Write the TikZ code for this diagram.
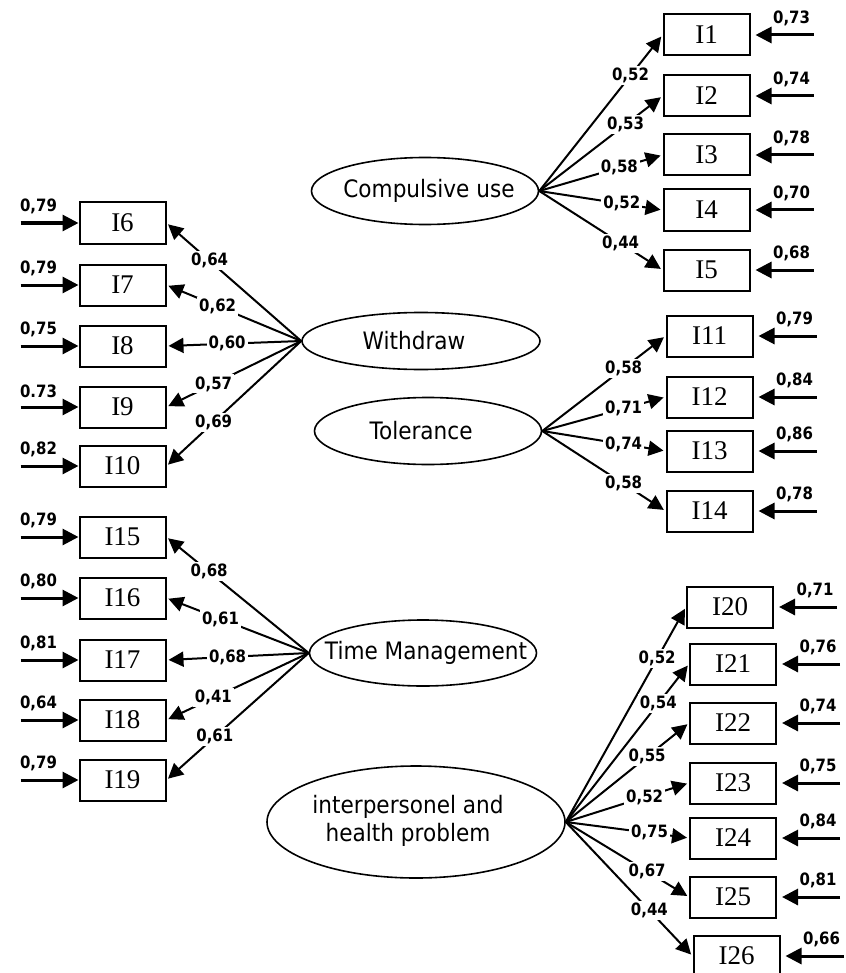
\documentclass[tikz,border=0pt]{standalone}
\usepackage{fontspec}
\setmainfont{DejaVu Sans}
\newfontfamily\itemfont{Liberation Serif}
\newfontfamily\narrowfont{DejaVu Sans}[FakeStretch=0.9]
\newfontfamily\coeffont{DejaVu Sans}[FakeStretch=0.88]
\usetikzlibrary{arrows.meta,shapes.geometric}
\tikzset{
  item/.style={draw,line width=1pt,minimum width=43pt,minimum height=20.5pt,inner sep=0pt,
    font=\itemfont\fontsize{13.5}{15}\selectfont},
  factor/.style={draw,ellipse,line width=0.8pt,inner sep=0pt},
  ftext/.style={align=center,font=\narrowfont\fontsize{12}{14}\selectfont},
  load/.style={line width=1pt,-{Triangle[length=7.5pt,width=7.5pt]},shorten >=1pt},
  err/.style={line width=1.5pt,-{Triangle[length=8pt,width=8pt]}},
  coef/.style={fill=white,inner sep=1pt,font=\coeffont\bfseries\fontsize{8.5}{10}\selectfont},
  elab/.style={inner sep=1pt,yshift=3pt,font=\coeffont\bfseries\fontsize{8.5}{10}\selectfont}
}
\begin{document}
\begin{tikzpicture}[x=0.5pt,y=-0.5pt]
\useasboundingbox (0,0) rectangle (845,973);
% factors
\node[factor,minimum width=113.5pt,minimum height=33.5pt] (cu) at (425,191) {};
\node[ftext] (cutxt) at (429,191) {Compulsive use};
\node[factor,minimum width=119pt,minimum height=28.5pt] (wd) at (421,341) {};
\node[ftext] (wdtxt) at (414,341) {Withdraw};
\node[factor,minimum width=113.5pt,minimum height=33.5pt] (tol) at (428,431) {};
\node[ftext] (toltxt) at (421,431) {Tolerance};
\node[factor,minimum width=113.5pt,minimum height=33pt] (tm) at (423,653) {};
\node[ftext] (tmtxt) at (426,653) {Time Management};
\node[factor,minimum width=149pt,minimum height=56pt] (ih) at (416,822) {};
\node[ftext] (ihtxt) at (408,821) {interpersonel and\\health problem};
% items, left
\node[item] (i6) at (122.5,223) {I6};
\node[item] (i7) at (122.5,285) {I7};
\node[item] (i8) at (122.5,346) {I8};
\node[item] (i9) at (122.5,407) {I9};
\node[item] (i10) at (122.5,466) {I10};
\node[item] (i15) at (122.5,537) {I15};
\node[item] (i16) at (122.5,598) {I16};
\node[item] (i17) at (122.5,660) {I17};
\node[item] (i18) at (122.5,720) {I18};
\node[item] (i19) at (122.5,780) {I19};
% items, right
\node[item] (i1) at (706.5,35) {I1};
\node[item] (i2) at (706.5,96) {I2};
\node[item] (i3) at (706.5,155) {I3};
\node[item] (i4) at (706.5,210) {I4};
\node[item] (i5) at (706.5,270) {I5};
\node[item] (i11) at (709.5,336) {I11};
\node[item] (i12) at (709.5,397) {I12};
\node[item] (i13) at (709.5,451) {I13};
\node[item] (i14) at (709.5,511) {I14};
\node[item] (i20) at (730,607) {I20};
\node[item] (i21) at (733,664) {I21};
\node[item] (i22) at (733,723) {I22};
\node[item] (i23) at (733,783) {I23};
\node[item] (i24) at (733,838) {I24};
\node[item] (i25) at (733,897) {I25};
\node[item] (i26) at (736.5,956) {I26};
% loadings
\draw[load] (cu.east) -- node[coef,pos=0.74] {0,52} (i1.west);
\draw[load] (cu.east) -- node[coef,pos=0.7] {0,53} (i2.west);
\draw[load] (cu.east) -- node[coef,pos=0.65] {0,58} (i3.west);
\draw[load] (cu.east) -- node[coef,pos=0.67] {0,52} (i4.west);
\draw[load] (cu.east) -- node[coef,pos=0.66] {0,44} (i5.west);
\draw[load] (wd.west) -- node[coef,pos=0.68] {0,64} (i6.east);
\draw[load] (wd.west) -- node[coef,pos=0.62] {0,62} (i7.east);
\draw[load] (wd.west) -- node[coef,pos=0.55] {0,60} (i8.east);
\draw[load] (wd.west) -- node[coef,pos=0.65] {0,57} (i9.east);
\draw[load] (wd.west) -- node[coef,pos=0.65] {0,69} (i10.east);
\draw[load] (tol.east) -- node[coef,pos=0.66] {0,58} (i11.west);
\draw[load] (tol.east) -- node[coef,pos=0.66] {0,71} (i12.west);
\draw[load] (tol.east) -- node[coef,pos=0.66] {0,74} (i13.west);
\draw[load] (tol.east) -- node[coef,pos=0.66] {0,58} (i14.west);
\draw[load] (tm.west) -- node[coef,pos=0.7] {0,68} (i15.east);
\draw[load] (tm.west) -- node[coef,pos=0.62] {0,61} (i16.east);
\draw[load] (tm.west) -- node[coef,pos=0.57] {0,68} (i17.east);
\draw[load] (tm.west) -- node[coef,pos=0.67] {0,41} (i18.east);
\draw[load] (tm.west) -- node[coef,pos=0.66] {0,61} (i19.east);
\draw[load] (ih.east) -- node[coef,pos=0.76] {0,52} (i20.west);
\draw[load] (ih.east) -- node[coef,pos=0.75] {0,54} (i21.west);
\draw[load] (ih.east) -- node[coef,pos=0.66] {0,55} (i22.west);
\draw[load] (ih.east) -- node[coef,pos=0.64] {0,52} (i23.west);
\draw[load] (ih.east) -- node[coef,pos=0.68] {0,75} (i24.west);
\draw[load] (ih.east) -- node[coef,pos=0.66] {0,67} (i25.west);
\draw[load] (ih.east) -- node[coef,pos=0.66] {0,44} (i26.west);
% errors, left
\draw[err] ([xshift=-29pt]i6.west) node[elab,above right,xshift=-2pt] {0,79} -- (i6.west);
\draw[err] ([xshift=-29pt]i7.west) node[elab,above right,xshift=-2pt] {0,79} -- (i7.west);
\draw[err] ([xshift=-29pt]i8.west) node[elab,above right,xshift=-2pt] {0,75} -- (i8.west);
\draw[err] ([xshift=-29pt]i9.west) node[elab,above right,xshift=-2pt] {0.73} -- (i9.west);
\draw[err] ([xshift=-29pt]i10.west) node[elab,above right,xshift=-2pt] {0,82} -- (i10.west);
\draw[err] ([xshift=-29pt]i15.west) node[elab,above right,xshift=-2pt] {0,79} -- (i15.west);
\draw[err] ([xshift=-29pt]i16.west) node[elab,above right,xshift=-2pt] {0,80} -- (i16.west);
\draw[err] ([xshift=-29pt]i17.west) node[elab,above right,xshift=-2pt] {0,81} -- (i17.west);
\draw[err] ([xshift=-29pt]i18.west) node[elab,above right,xshift=-2pt] {0,64} -- (i18.west);
\draw[err] ([xshift=-29pt]i19.west) node[elab,above right,xshift=-2pt] {0,79} -- (i19.west);
% errors, right
\draw[err] ([xshift=31.5pt]i1.east) node[elab,above left] {0,73} -- ([xshift=2.5pt]i1.east);
\draw[err] ([xshift=31.5pt]i2.east) node[elab,above left] {0,74} -- ([xshift=2.5pt]i2.east);
\draw[err] ([xshift=31.5pt]i3.east) node[elab,above left] {0,78} -- ([xshift=2.5pt]i3.east);
\draw[err] ([xshift=31.5pt]i4.east) node[elab,above left] {0,70} -- ([xshift=2.5pt]i4.east);
\draw[err] ([xshift=31.5pt]i5.east) node[elab,above left] {0,68} -- ([xshift=2.5pt]i5.east);
\draw[err] ([xshift=31.5pt]i11.east) node[elab,above left] {0,79} -- ([xshift=2.5pt]i11.east);
\draw[err] ([xshift=31.5pt]i12.east) node[elab,above left] {0,84} -- ([xshift=2.5pt]i12.east);
\draw[err] ([xshift=31.5pt]i13.east) node[elab,above left] {0,86} -- ([xshift=2.5pt]i13.east);
\draw[err] ([xshift=31.5pt]i14.east) node[elab,above left] {0,78} -- ([xshift=2.5pt]i14.east);
\draw[err] ([xshift=31.5pt]i20.east) node[elab,above left] {0,71} -- ([xshift=2.5pt]i20.east);
\draw[err] ([xshift=31.5pt]i21.east) node[elab,above left] {0,76} -- ([xshift=2.5pt]i21.east);
\draw[err] ([xshift=31.5pt]i22.east) node[elab,above left] {0,74} -- ([xshift=2.5pt]i22.east);
\draw[err] ([xshift=31.5pt]i23.east) node[elab,above left] {0,75} -- ([xshift=2.5pt]i23.east);
\draw[err] ([xshift=31.5pt]i24.east) node[elab,above left] {0,84} -- ([xshift=2.5pt]i24.east);
\draw[err] ([xshift=31.5pt]i25.east) node[elab,above left] {0,81} -- ([xshift=2.5pt]i25.east);
\draw[err] ([xshift=31.5pt]i26.east) node[elab,above left] {0,66} -- ([xshift=2.5pt]i26.east);
\end{tikzpicture}
\end{document}
